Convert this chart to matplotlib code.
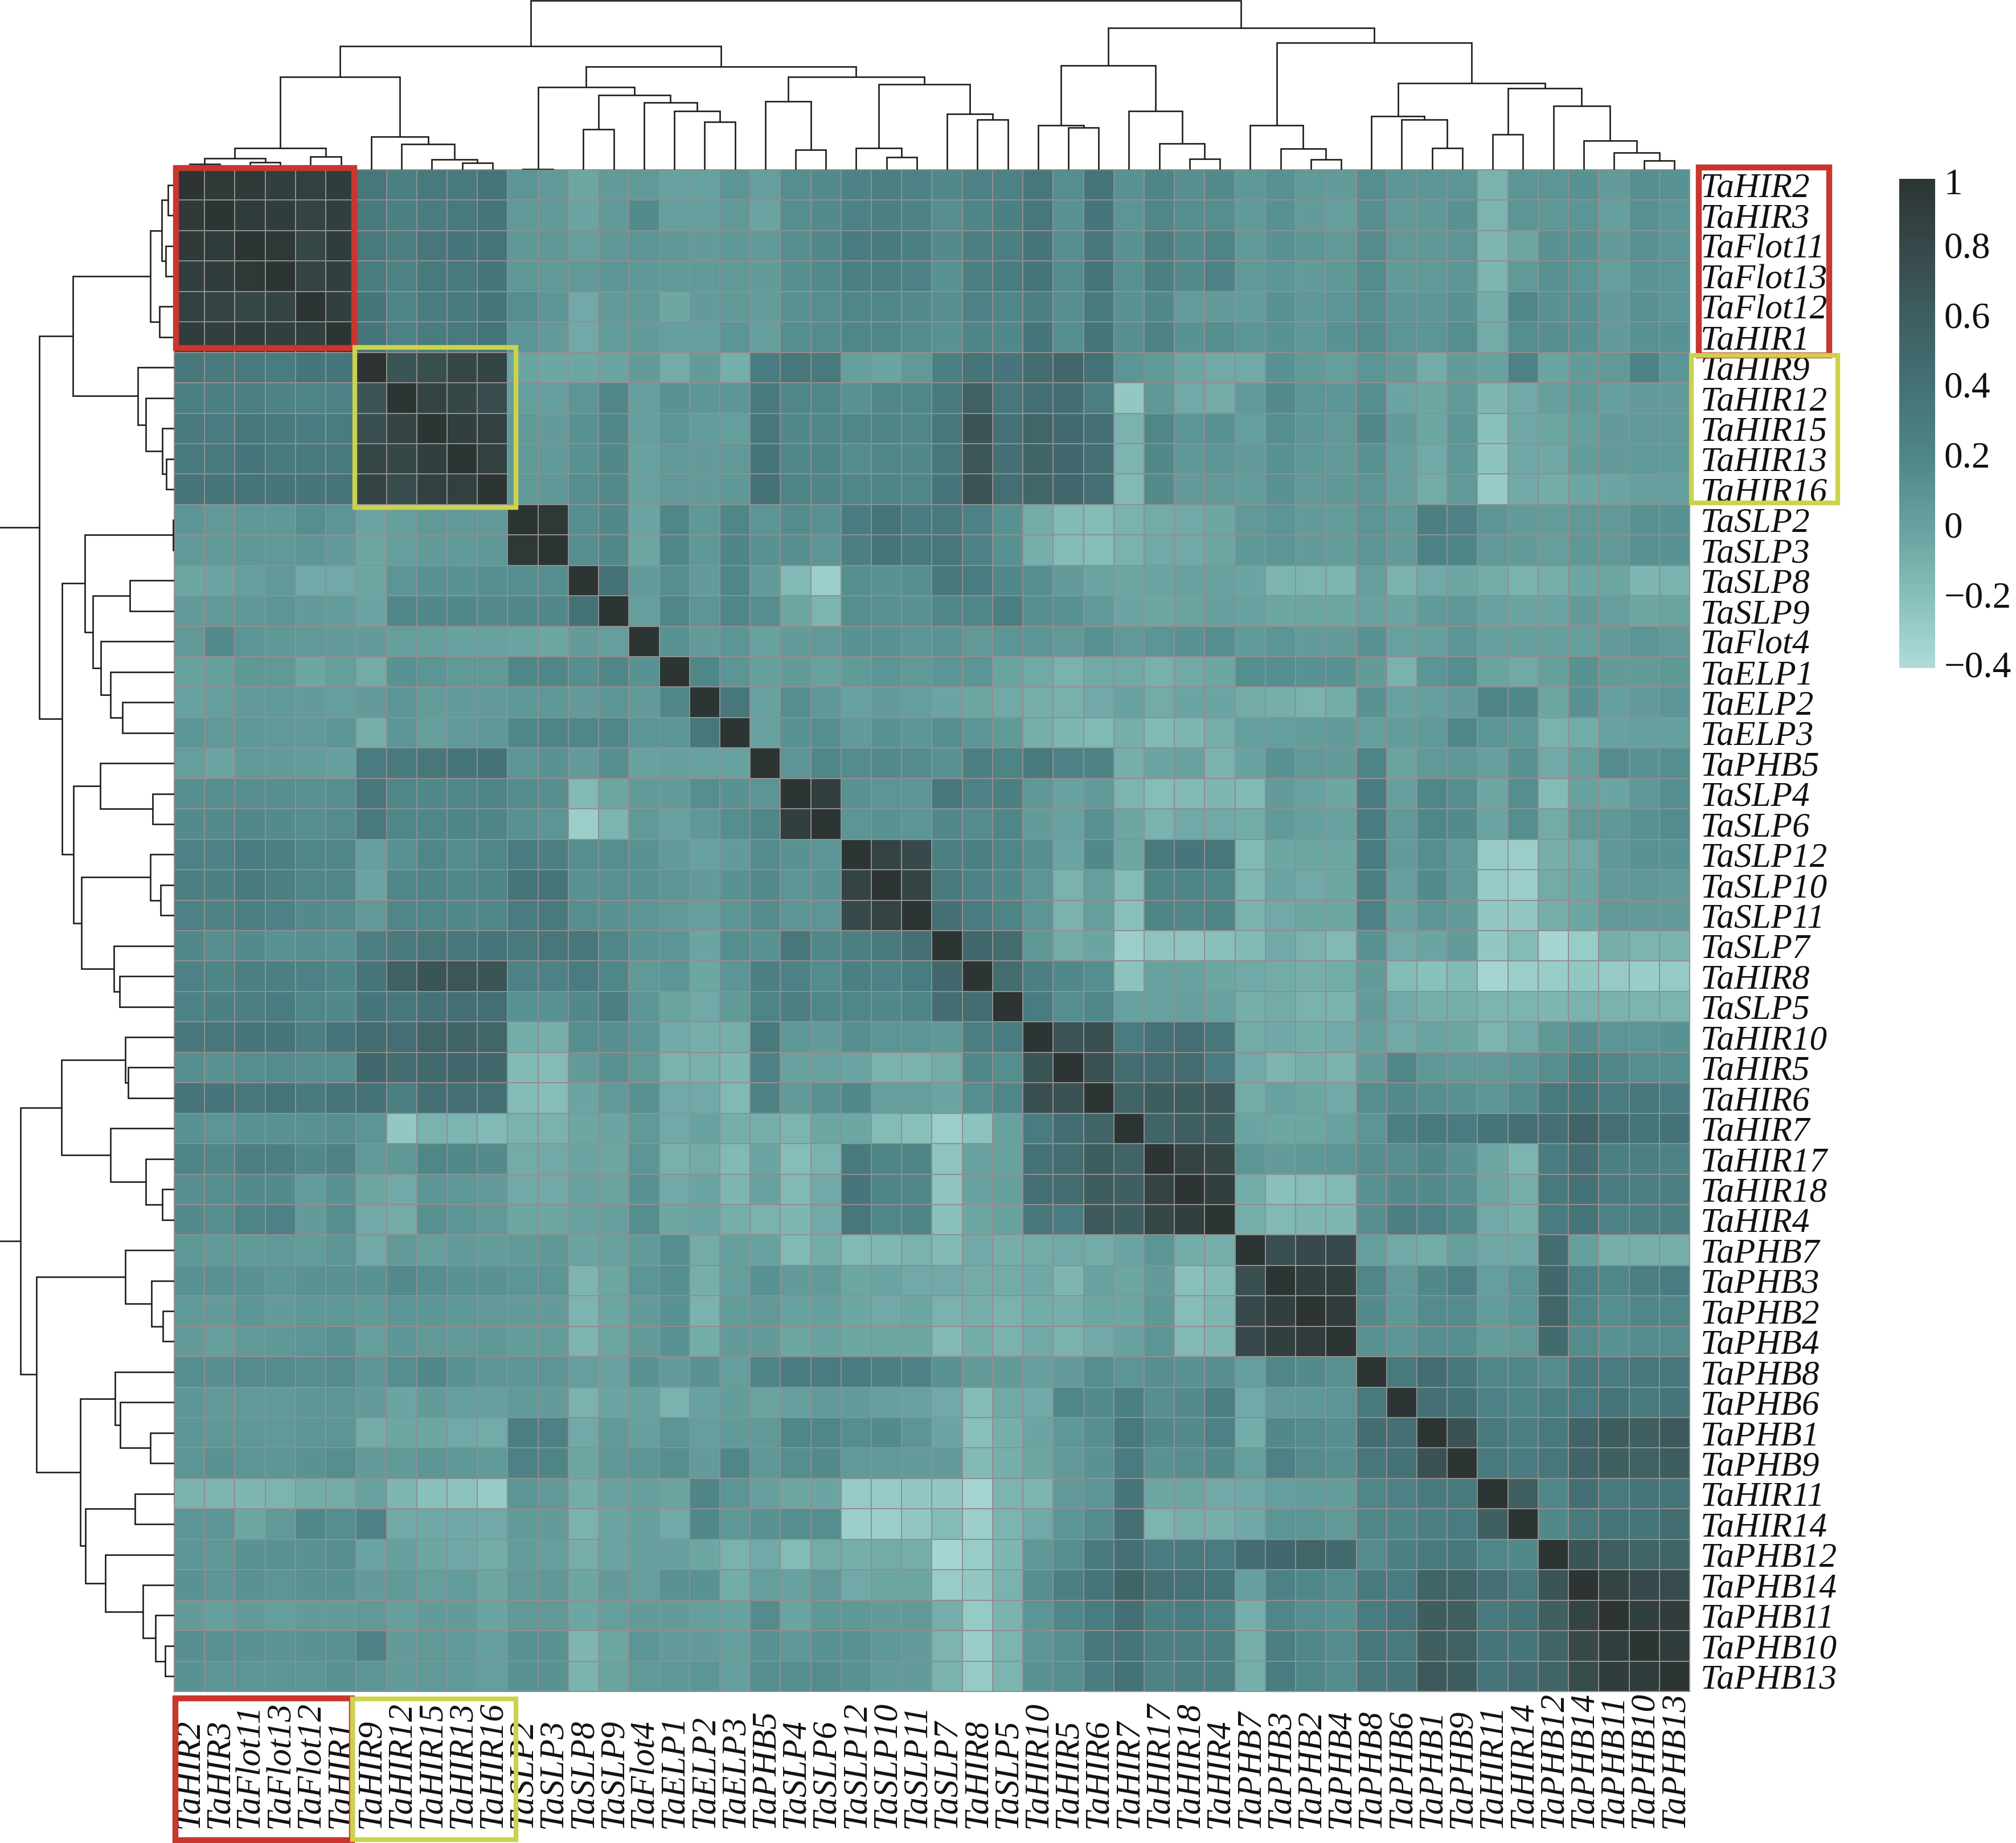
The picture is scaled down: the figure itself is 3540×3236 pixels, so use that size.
import matplotlib
matplotlib.use('Agg')
import matplotlib.pyplot as plt
import numpy as np
from matplotlib.colors import LinearSegmentedColormap
from matplotlib.patches import Rectangle

W, H = 3541, 3236

genes = ['TaHIR2', 'TaHIR3', 'TaFlot11', 'TaFlot13', 'TaFlot12', 'TaHIR1',
         'TaHIR9', 'TaHIR12', 'TaHIR15', 'TaHIR13', 'TaHIR16',
         'TaSLP2', 'TaSLP3', 'TaSLP8', 'TaSLP9', 'TaFlot4',
         'TaELP1', 'TaELP2', 'TaELP3', 'TaPHB5', 'TaSLP4', 'TaSLP6',
         'TaSLP12', 'TaSLP10', 'TaSLP11', 'TaSLP7', 'TaHIR8', 'TaSLP5',
         'TaHIR10', 'TaHIR5', 'TaHIR6', 'TaHIR7', 'TaHIR17', 'TaHIR18', 'TaHIR4',
         'TaPHB7', 'TaPHB3', 'TaPHB2', 'TaPHB4', 'TaPHB8', 'TaPHB6', 'TaPHB1', 'TaPHB9',
         'TaHIR11', 'TaHIR14', 'TaPHB12', 'TaPHB14', 'TaPHB11', 'TaPHB10', 'TaPHB13']

# upper triangle of the correlation matrix
upper = [
 [1,.95,.95,.9,.88,.92, .35,.27,.33,.33,.38, .1,.07,-.03,.05,.07,0,0,.1,.03,
  .15,.17,.25,.28,.25, .18,.25,.25,.35,.15, .38,.12,.22,.14,.17, .08,.13,.06,.05,.15, .09,.09,.1,-.1,.1, .1,.12,.05,.14,.12],
 [1,.93,.92,.86,.9, .32,.26,.3,.33,.37, .07,.06,-.02,.06,.17,.02,.03,.07,-.02,
  .15,.17,.25,.26,.24, .14,.22,.26,.35,.12, .36,.1,.2,.15,.15, .06,.13,.05,.03,.14, .07,.08,.12,-.12,.1, .08,.1,.02,.13,.1],
 [1,.97,.82,.92, .33,.28,.35,.36,.38, .08,.08,.03,.08,.1,.08,.05,.08,.06,
  .14,.18,.3,.32,.27, .17,.28,.28,.37,.15, .35,.12,.28,.17,.23, .06,.12,.09,.07,.16, .07,.08,.1,-.13,-.03, .12,.12,.05,.12,.1],
 [1,.86,.9, .31,.24,.33,.33,.37, .08,.07,.07,.1,.08,.07,.06,.07,.05,
  .14,.17,.27,.28,.25, .12,.27,.3,.37,.16, .38,.13,.27,.17,.25, .07,.09,.05,.08,.16, .06,.07,.09,-.12,.07, .13,.1,.03,.11,.1],
 [1,.9, .37,.23,.3,.32,.37, .15,.09,-.05,.05,.07,-.03,.05,.07,.04,
  .13,.15,.2,.2,.17, .14,.25,.2,.28,.14, .32,.12,.18,.04,.05, .04,.12,.08,.1,.15, .09,.09,.12,-.07,.2, .12,.12,.05,.12,.1],
 [1, .36,.25,.31,.33,.38, .1,.05,-.05,.04,.05,.03,.03,.1,.02,
  .15,.16,.2,.2,.16, .12,.22,.19,.36,.15, .37,.14,.24,.12,.15, .1,.12,.08,.12,.16, .1,.1,.15,-.06,.15, .14,.12,.05,.12,.12],
 [1,.7,.75,.82,.85, -.02,-.03,-.03,-.02,.05,-.06,.05,-.08,.3,.35,.33,
  .02,-.02,.07,.28,.38,.36,.45,.5,.4,.1,.06,-.03,-.05,-.05,.12,.06,.03,.1,.05,-.06,.05,0,.25,-.02,.05,.07,.25,.1],
 [1,.85,.82,.78, .03,.03,.1,.2,.03,.12,.09,.09,.33,.2,.2,
  .13,.2,.2,.32,.58,.35,.43,.45,.28,-.25,.08,-.05,-.06,.07,.17,.1,.09,.15,-.02,-.03,.06,-.13,-.05,.02,.06,.02,.05,.05],
 [1,.9,.88, .07,.05,.12,.18,.02,.1,.04,.03,.35,.18,.2,
  .2,.22,.2,.35,.7,.4,.52,.47,.42,-.1,.2,.1,.13,.03,.15,.09,.07,.18,.05,-.03,.09,-.2,-.04,-.03,.03,.05,.07,.07],
 [1,.88, .07,.06,.12,.19,0,.07,.05,.07,.37,.2,.22,
  .16,.2,.18,.35,.68,.42,.55,.5,.42,-.12,.18,.08,.1,.05,.12,.08,.07,.12,.03,-.05,.08,-.22,-.04,-.04,.04,.05,.06,.06],
 [1, .07,.08,.15,.17,0,.07,.05,.08,.4,.22,.22,
  .2,.22,.2,.36,.7,.43,.52,.5,.43,-.15,.17,.05,.07,.04,.12,.07,.08,.1,.02,-.06,.06,-.27,-.05,-.07,-.03,-.02,.02,.03],
 [1,.97,.15,.18,-.02,.2,.08,.2,.1,.16,.13,
  .3,.38,.3,.33,.25,.13,-.07,-.16,-.17,-.1,-.06,-.05,-.03,.07,.1,.05,.04,.1,.06,.28,.25,.1,.05,.04,.07,.07,.12,.12],
 [1,.15,.18,-.03,.2,.08,.22,.12,.14,.1,
  .28,.38,.33,.35,.25,.13,-.08,-.17,-.18,-.1,-.05,-.05,-.03,.08,.1,.05,.04,.1,.05,.25,.22,.07,.05,.03,.08,.07,.12,.12],
 [1,.4,.05,.15,.05,.2,.05,-.15,-.3,
  .15,.12,.15,.35,.3,.18,.15,.05,-.02,-.03,-.02,0,0,-.02,-.12,-.12,-.12,.03,-.1,-.05,-.03,-.07,-.1,-.08,-.03,-.03,-.13,-.1],
 [1,.03,.2,.1,.2,.15,-.03,-.12,
  .15,.13,.12,.2,.2,.28,.14,.13,.06,-.02,-.03,-.01,.02,0,-.03,-.03,-.03,0,-.02,.06,.08,0,-.02,-.02,.05,.03,-.03,-.01],
 [1,.12,.05,.1,0,.05,.07,
  .12,.12,.1,.11,.07,.1,.1,.07,.13,.07,.1,.12,.15,.06,.1,.05,.05,.12,0,.02,.1,.02,.02,.02,.03,.05,.1,.07],
 [1,.2,.1,.02,.05,0,
  .06,.1,.07,.1,.1,-.01,-.05,-.1,-.05,-.05,-.09,-.05,-.03,.15,.15,.12,.12,.05,-.1,.1,.15,-.01,-.05,.02,.12,.05,.05,.08],
 [1,.35,0,.15,.08,
  0,.05,.03,-.02,-.03,-.05,-.08,-.09,-.05,0,-.06,-.02,-.02,-.06,-.08,-.1,-.07,.12,0,.03,.05,.22,.18,-.03,.12,.02,.05,.1],
 [1,0,.12,.15,
  .05,.12,.1,.15,.1,.06,-.08,-.13,-.15,-.08,-.15,-.13,-.08,.02,.03,.04,.05,.03,.04,.06,.2,.1,.08,-.1,-.07,0,.02,.02],
 [1,.1,.2,
  .16,.17,.16,.12,.27,.23,.33,.25,.24,-.08,-.02,0,-.1,0,.12,.07,.05,.22,-.01,.07,.08,.02,.12,-.05,.03,.16,.12,.15],
 [1,.9,
  .12,.1,.1,.35,.25,.28,.08,0,.05,-.12,-.18,-.15,-.13,-.15,.05,0,-.03,.3,.02,.2,.15,-.03,.15,-.17,0,-.02,.08,.15],
 [1,
  .1,.12,.1,.18,.16,.2,.05,.01,.13,-.03,-.1,-.05,-.05,-.07,.06,.02,0,.3,.06,.2,.17,-.02,.15,-.06,.07,.08,.12,.16],
 [1,.85,.8,.27,.27,.2,.14,-.02,.18,-.03,.32,.36,.35,-.15,-.03,-.03,-.03,.3,.05,.15,.06,-.27,-.3,-.08,-.05,.08,.12,.12],
 [1,.85,.33,.25,.18,.1,-.1,.03,-.17,.22,.22,.2,-.14,-.02,-.05,-.03,.27,.02,.17,.06,-.27,-.3,-.06,-.03,.05,.08,.05],
 [1,.42,.3,.23,.1,-.1,.03,-.2,.22,.2,.22,-.1,-.05,-.03,-.03,.25,0,.1,.05,-.25,-.25,-.08,-.03,.07,.05,.05],
 [1,.5,.45,.08,-.06,-.02,-.3,-.23,-.23,-.2,-.16,-.05,-.1,-.15,.12,-.05,-.02,.05,-.25,-.17,-.35,-.28,-.08,-.12,-.1],
 [1,.45,.28,.18,.15,-.22,0,0,-.03,-.05,-.06,-.08,-.07,.05,-.17,-.2,-.16,-.35,-.3,-.28,-.25,-.27,-.29,-.27],
 [1,.3,.15,.2,0,0,.02,0,-.08,-.06,-.1,-.1,.05,-.05,-.08,-.08,-.12,-.12,-.13,-.1,-.1,-.12,-.12],
 [1,.7,.75,.3,.4,.43,.35,-.06,-.04,-.07,-.05,.02,-.05,-.02,-.03,-.12,-.05,.08,.14,.1,.1,.12],
 [1,.72,.45,.45,.45,.3,-.05,-.12,-.08,-.1,.05,.2,.08,.07,.07,.1,.15,.28,.2,.15,.15],
 [1,.55,.62,.62,.65,-.06,0,-.03,-.05,.15,.17,.14,.12,.1,.16,.32,.38,.3,.35,.3],
 [1,.55,.6,.62,-.02,-.03,-.03,0,.1,.27,.33,.3,.38,.42,.42,.55,.42,.38,.4],
 [1,.85,.82,.1,.05,.08,.1,.14,.14,.18,.12,-.03,-.12,.3,.42,.27,.28,.24],
 [1,.9,-.07,-.2,-.18,-.15,.12,.17,.17,.14,-.03,-.08,.33,.4,.3,.28,.28],
 [1,-.08,-.15,-.13,-.13,.14,.27,.25,.17,-.05,-.08,.3,.38,.25,.28,.28],
 [1,.75,.8,.8,.03,-.05,-.07,.03,-.04,-.04,.45,.02,-.08,-.08,-.08],
 [1,.9,.9,.2,.07,.18,.25,.03,.1,.5,.25,.2,.28,.3],
 [1,.93,.17,.08,.16,.16,.04,.1,.52,.2,.15,.2,.2],
 [1,.13,.1,.14,.15,.04,.07,.47,.16,.12,.16,.16],
 [1,.33,.45,.35,.2,.2,.16,.32,.3,.35,.35],
 [1,.42,.4,.25,.22,.27,.3,.38,.33,.38],
 [1,.72,.33,.28,.33,.55,.62,.6,.65],
 [1,.33,.3,.35,.55,.6,.58,.62],
 [1,.6,.2,.42,.33,.38,.38],
 [1,.18,.33,.38,.37,.45],
 [1,.7,.6,.55,.55],
 [1,.85,.8,.78],
 [1,.9,.92],
 [1,.93],
 [1],
]

# dendrograms: (left, right, height in px), a bare int is a leaf
top_tree = (
    ((((((0, 1, 9.6), (2, 3, 13.4), 20.4), (4, 5, 23), 38.3),
      (6, (7, (8, (9, 10, 12.1), 18.5), 45.3), 58), 163.3),
     (((11, 12, 1.3), ((13, 14, 71.4), (15, (16, (17, 18, 84.2), 102.7), 118), 131.4), 144.8),
      ((19, (20, 21, 35), 119.9),
       ((22, (23, 24, 22.3), 38.3), (25, (26, 27, 88), 97.6), 149.9), 163.3), 181.1), 217.5)),
    (((28, (29, 30, 74), 78.4), (31, (32, (33, 34, 19.1), 45.9), 103.3), 183),
     ((35, (36, (37, 38, 17.9), 37), 78.4),
      ((39, (40, (41, 42, 38.3), 88), 94.4),
       ((43, 44, 62.5), (45, (46, (47, (48, 49, 15.9), 30), 51), 111.6), 143.5), 151.8), 223.2), 248.7),
    296.6)

left_tree = (
    ((((((0, 1, 10.7), (2, 3, 15.2), 22.3), (4, 5, 25.9), 42),
       (6, (7, (8, (9, 10, 14.3), 20.5), 50), 64.3), 177.7),
      (((11, 12, 1.8), ((13, 14, 77.7), (15, (16, (17, 18, 91), 111.6), 128.6), 142.9), 157),
       ((19, (20, 21, 37.5), 130.4),
        ((22, (23, 24, 24), 42), (25, (26, 27, 95.5), 106.3), 163.4), 176.8), 197.3), 236.6)),
    (((28, (29, 30, 81.3), 85.7), (31, (32, (33, 34, 20.5), 50), 111.6), 198.2),
     ((35, (36, (37, 38, 19.6), 40), 85.7),
      ((39, (40, (41, 42, 42), 94.6), 103.6),
       ((43, 44, 68.8), (45, (46, (47, (48, 49, 16), 33), 54.5), 121.4), 156.3), 165.2), 242), 269.6),
    330)

cbar_ticks = [1, 0.8, 0.6, 0.4, 0.2, 0, -0.2, -0.4]
cbar_labels = ['1', '0.8', '0.6', '0.4', '0.2', '0', '\u22120.2', '\u22120.4']

cmap = LinearSegmentedColormap.from_list('teal', [
    (0.0, '#aedcd9'), (0.2 / 1.4, '#88c0bb'), (0.4 / 1.4, '#68a2a0'),
    (0.6 / 1.4, '#4f8789'), (0.8 / 1.4, '#447277'), (1.0 / 1.4, '#3f5f61'),
    (1.2 / 1.4, '#37494a'), (1.0, '#2c3533')])

plt.rcParams['font.family'] = ['Liberation Serif', 'DejaVu Serif']


def px_axes(fig, x0, y0, x1, y1):
    ax = fig.add_axes([x0 / W, 1 - y1 / H, (x1 - x0) / W, (y1 - y0) / H])
    return ax


def tree_lines(node, out):
    # returns centre and height of a node, collects the bracket segments
    if isinstance(node, int):
        return node + 0.5, 0
    c1, h1 = tree_lines(node[0], out)
    c2, h2 = tree_lines(node[1], out)
    h = node[2]
    out.append(([c1, c1, c2, c2], [h1, h, h, h2]))
    return (c1 + c2) / 2, h


n = len(genes)
corr = np.zeros((n, n))
for i, row in enumerate(upper):
    corr[i, i:] = row
    corr[i:, i] = row

fig = plt.figure(figsize=(W / 100, H / 100), dpi=100, facecolor='white')

hx0, hy0, hx1, hy1 = 306, 298, 2967, 2970
ax = px_axes(fig, hx0, hy0, hx1, hy1)
ax.pcolormesh(np.arange(n + 1), np.arange(n + 1), corr, cmap=cmap, vmin=-0.4, vmax=1,
              edgecolors='#918e8f', linewidth=1.3)
ax.set_xlim(0, n)
ax.set_ylim(n, 0)
for s in ax.spines.values():
    s.set_color('#918e8f')
    s.set_linewidth(1.3)
ax.set_xticks([])
ax.yaxis.tick_right()
ax.set_yticks(np.arange(n) + 0.5)
ax.set_yticklabels(genes, fontsize=44, style='italic', color='#111111')
ax.tick_params(axis='y', length=0, pad=14)

cell_h = (hy1 - hy0) / n
for i, g in enumerate(genes):
    ax.text(i + 0.5, n + (3210 - hy1) / cell_h, g, rotation=90, ha='center', va='bottom',
            fontsize=44, style='italic', color='#111111', clip_on=False)

# top dendrogram
ax_top = px_axes(fig, hx0, 0, hx1, hy0)
segs = []
tree_lines(top_tree, segs)
for xs, ys in segs:
    ax_top.plot(xs, ys, color='#1f1a17', lw=1.9, solid_joinstyle='miter', solid_capstyle='butt')
ax_top.set_xlim(0, n)
ax_top.set_ylim(0, hy0)
ax_top.axis('off')

# left dendrogram, the root sits past the edge of the figure
ax_left = px_axes(fig, 0, hy0, hx0, hy1)
segs = []
tree_lines(left_tree, segs)
for ys, xs in segs:
    ax_left.plot(xs, ys, color='#1f1a17', lw=1.9, solid_joinstyle='miter', solid_capstyle='butt')
ax_left.set_xlim(hx0, 0)
ax_left.set_ylim(n, 0)
ax_left.axis('off')

# colour bar
cax = px_axes(fig, 3335, 314, 3398, 1173)
grad = np.linspace(1, -0.4, 256).reshape(-1, 1)
cax.imshow(grad, aspect='auto', cmap=cmap, vmin=-0.4, vmax=1, extent=[0, 1, -0.4, 1])
cax.set_xticks([])
cax.set_yticks([])
for s in cax.spines.values():
    s.set_visible(False)
for v, lab in zip(cbar_ticks, cbar_labels):
    y = 0.982 if v == 1 else v
    cax.text(1.25, y, lab, fontsize=47, va='center', ha='left', color='#111111', clip_on=False)

# highlight frames
RED = '#c9362f'
YEL = '#cdd24c'
frames = [(309, 295, 622, 611, RED, 7.5), (2983, 294, 3212, 624, RED, 7.5), (308, 2982, 618, 3231, RED, 7.5),
          (623, 610, 906, 891, YEL, 6), (2970, 624, 3227, 883, YEL, 6), (619, 2983, 906, 3230, YEL, 6)]
for x0, y0, x1, y1, col, lw in frames:
    fig.add_artist(Rectangle((x0 / W, 1 - y1 / H), (x1 - x0) / W, (y1 - y0) / H,
                             transform=fig.transFigure, fill=False, edgecolor=col, linewidth=lw))

fig.savefig('out.png', dpi=100)
